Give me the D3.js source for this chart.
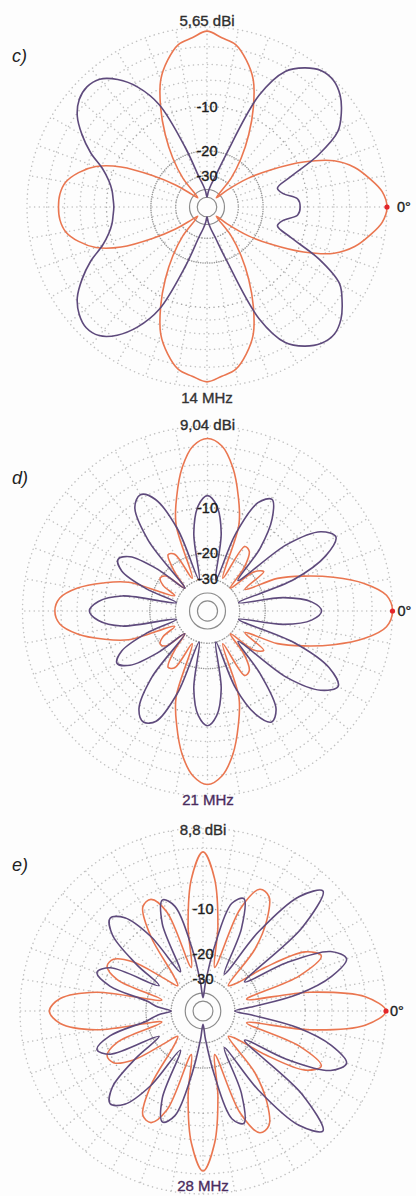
<!DOCTYPE html>
<html><head><meta charset="utf-8">
<script src="https://cdn.jsdelivr.net/npm/d3@7"></script>
<style>body{margin:0;background:#fff;} svg{display:block;} text{font-family:"Liberation Sans",Arial,sans-serif;}</style>
</head><body>
<svg id="chart" width="416" height="1196"></svg>
<script>
// ---- data ----
const angles = d3.range(0, 360, 5);           // azimuth, degrees (0 = right, CCW)
const ringLevels = [0, -2, -4, -6, -8, -10, -20, -30, -40, -50];
const ringLabels = [-10, -20, -30];
const spokeAngles = d3.range(0, 360, 10);
const panelLabels = ["c)", "d)", "e)"];
const gainLabels = ["5,65 dBi", "9,04 dBi", "8,8 dBi"];
const freqLabels = ["14 MHz", "21 MHz", "28 MHz"];

// 14 MHz (dB relative to max), every 5 degrees
const c_orange = [0,-0.4,-1.5,-2.8,-4.9,-9,-15,-22,-33,-45,-27,-19,-13.2,-8.5,-4.9,-2.9,-1.5,-1.0,
  -0.4,-1.0,-1.5,-2.9,-4.9,-8.5,-13.2,-19,-27,-45,-38,-26.5,-18,-11,-7.2,-5.2,-3.9,-3.4,
  -3.3,-3.4,-3.9,-5.2,-7.2,-11,-18,-26.5,-38,-45,-27,-19,-13.2,-8.5,-4.9,-2.9,-1.5,-1.0,
  -0.5,-1.0,-1.5,-2.9,-4.9,-8.5,-13.2,-19,-27,-45,-33,-22,-15,-9,-4.9,-2.8,-1.5,-0.4];
const c_purple = [-11.3,-11.7,-14.5,-15.5,-12,-6.6,-3.0,-1.6,-0.6,-0.1,-0.2,-1.0,-2.4,-6.5,-20,-30,-36,-42,
  -50,-42,-36,-30,-18,-8,-4.5,-2.5,-1.3,-1.0,-1.3,-2.2,-3.8,-5.8,-8.3,-9.8,-10.7,-11.1,
  -11.3,-11.1,-10.7,-9.8,-8.3,-5.8,-3.8,-2.2,-1.3,-0.9,-1.2,-2.4,-4.5,-8,-18,-30,-36,-42,
  -50,-42,-36,-30,-20,-6.5,-2.4,-1.0,-0.2,0,-0.5,-1.5,-2.8,-6.4,-12,-15.5,-14.5,-11.7];

// 21 MHz
const d_orange = [0,-0.5,-2.6,-6,-10.2,-15,-25,-17,-19,-30,-20,-16,-15.6,-28,-12,-7.6,-4.1,-1.9,
  -1.2,-1.9,-4.1,-7.6,-12,-28,-17.8,-17,-22,-30,-21,-20,-22,-28,-13.5,-9.2,-5.8,-3.8,
  -3.3,-3.8,-5.8,-9.2,-13.5,-28,-22,-20,-21,-30,-22,-17,-17.8,-28,-12,-7.6,-4.1,-1.9,
  -1.1,-1.9,-4.1,-7.6,-12,-28,-15.6,-16,-20,-30,-19,-17,-25,-15,-10.2,-6,-2.6,-0.5];
const d_purple = [-8.3,-9.8,-15,-30,-12,-6,-3.8,-5,-10,-25,-14,-8.5,-6.2,-7.5,-14,-30,-14.6,-9.6,
  -8.1,-9.6,-14.6,-30,-13,-7,-5.5,-6.5,-12,-30,-18,-11.5,-10,-11.5,-18,-30,-13,-9,
  -7.7,-9,-13,-30,-18,-11.5,-9.8,-11.5,-18,-30,-13,-7.5,-6.3,-7.2,-13,-30,-14.6,-9.7,
  -8.2,-9.7,-14.6,-30,-14,-8.3,-6.3,-7.5,-14,-25,-10,-5,-3.5,-5.5,-12,-30,-15,-9.8];

// 28 MHz
const e_orange = [0,-2,-9,-24,-10,-5.8,-7.5,-15,-25,-28,-14,-8.5,-5.6,-5.3,-9,-24,-13,-5.5,
  -2.4,-5.5,-13,-24,-9.5,-6.8,-7.2,-12,-24,-28,-22,-13,-9.8,-9.4,-12,-25,-9,-4.2,
  -3.0,-4.2,-9,-25,-12,-9.4,-9.8,-13,-22,-28,-24,-12,-7.2,-6.8,-9.5,-24,-13,-5.5,
  -2.3,-5.5,-13,-24,-9,-5.3,-5.6,-8.5,-14,-28,-25,-15,-7.5,-5.8,-10,-24,-9,-2];
const e_purple = [-30,-22,-11,-5.5,-3.1,-4.5,-11,-22,-6,-1.3,-3.5,-11,-25,-12,-7.3,-8.5,-18,-32,
  -45,-32,-18,-9,-7.5,-11,-24,-12,-7,-5.7,-7.5,-14,-22,-10,-8.3,-11,-20,-24,
  -30,-24,-20,-11,-8.3,-10,-22,-14,-7.5,-5.7,-7,-12,-24,-11,-7.5,-9,-18,-32,
  -45,-32,-18,-8.5,-7.3,-12,-25,-11,-3.5,-1.3,-6,-22,-11,-4.5,-3.1,-5.5,-11,-22];

const panels = [
  {cx: 207, cy: 207, R: 180, orange: c_orange, purple: c_purple,
   gainY: 26, freqY: 403, freqX: 207, tagY: 62, zeroGap: 10, freqColor: "#333"},
  {cx: 207.5, cy: 611, R: 185, orange: d_orange, purple: d_purple,
   gainY: 430, freqY: 805, freqX: 208, tagY: 484, zeroGap: 5, freqColor: "#4a2c5e"},
  {cx: 203, cy: 1011, R: 183, orange: e_orange, purple: e_purple,
   gainY: 835, freqY: 1191, freqX: 203, tagY: 871, zeroGap: 4, freqColor: "#4a2c5e"}
];

// ---- drawing ----
const svg = d3.select("#chart");
svg.append("rect").attr("width", 416).attr("height", 1196).attr("fill", "#fdfdfd");

const toRad = a => (90 - a) * Math.PI / 180;   // azimuth -> lineRadial angle

panels.forEach((p, i) => {
  const r = d3.scalePow().exponent(0.2531).domain([0, 1]).range([0, p.R]);
  const rdb = db => r(Math.pow(10, db / 10));
  const g = svg.append("g").attr("transform", `translate(${p.cx},${p.cy})`);

  // spokes
  g.selectAll("line.spoke").data(spokeAngles).join("line")
    .attr("x1", a => rdb(-30) * Math.cos(a * Math.PI / 180))
    .attr("y1", a => -rdb(-30) * Math.sin(a * Math.PI / 180))
    .attr("x2", a => p.R * Math.cos(a * Math.PI / 180))
    .attr("y2", a => -p.R * Math.sin(a * Math.PI / 180))
    .attr("stroke", "#c2c2c2").attr("stroke-width", 1.5)
    .attr("stroke-dasharray", "0.1,4.6").attr("stroke-linecap", "round");

  // rings
  g.selectAll("circle.ring").data(ringLevels).join("circle")
    .attr("r", d => rdb(d)).attr("fill", "none")
    .attr("stroke", d => d <= -40 ? "#8c8c8c" : d <= -20 ? "#999" : d === -10 ? "#a8a8a8" : "#c2c2c2")
    .attr("stroke-width", d => d <= -40 ? 1.2 : 1.5)
    .attr("stroke-dasharray", d => d <= -40 ? null : d === -20 ? "0.1,2.2" : d === -30 ? "0.1,2.6" : "0.1,4.6")
    .attr("stroke-linecap", "round");

  const line = d3.lineRadial()
    .angle((d, j) => toRad(angles[j]))
    .radius(d => rdb(d))
    .curve(d3.curveCatmullRomClosed.alpha(0.5));

  g.append("path").attr("d", line(p.orange)).attr("fill", "none")
    .attr("stroke", "#ea7650").attr("stroke-width", 1.6);
  g.append("path").attr("d", line(p.purple)).attr("fill", "none")
    .attr("stroke", "#5e4a7c").attr("stroke-width", 1.6);

  // ring labels
  g.selectAll("text.rl").data(ringLabels).join("text")
    .attr("x", 0).attr("y", d => -rdb(d) + 5)
    .attr("text-anchor", "middle").attr("font-size", 14.5).attr("fill", "#1c1c1c")
    .attr("stroke", "#1c1c1c").attr("stroke-width", 0.4)
    .text(d => d);

  // max marker
  const tip = rdb(p.orange[0]);
  g.append("circle").attr("cx", tip).attr("cy", 0).attr("r", 2.6).attr("fill", "#e3262b");
  g.append("text").attr("x", tip + p.zeroGap).attr("y", 5).attr("font-size", 14.5).attr("fill", "#222")
    .attr("stroke", "#222").attr("stroke-width", 0.35).text("0°");

  svg.append("text").attr("x", p.cx).attr("y", p.gainY).attr("text-anchor", "middle")
    .attr("font-size", 15).attr("fill", "#2e2e2e").attr("stroke", "#2e2e2e").attr("stroke-width", 0.35)
    .text(gainLabels[i]);
  svg.append("text").attr("x", p.freqX).attr("y", p.freqY).attr("text-anchor", "middle")
    .attr("font-size", 15).attr("fill", p.freqColor).attr("stroke", p.freqColor).attr("stroke-width", 0.35)
    .text(freqLabels[i]);
  svg.append("text").attr("x", 12).attr("y", p.tagY).attr("font-size", 18)
    .attr("font-style", "italic").attr("fill", "#222").text(panelLabels[i]);
});
</script>
</body></html>
